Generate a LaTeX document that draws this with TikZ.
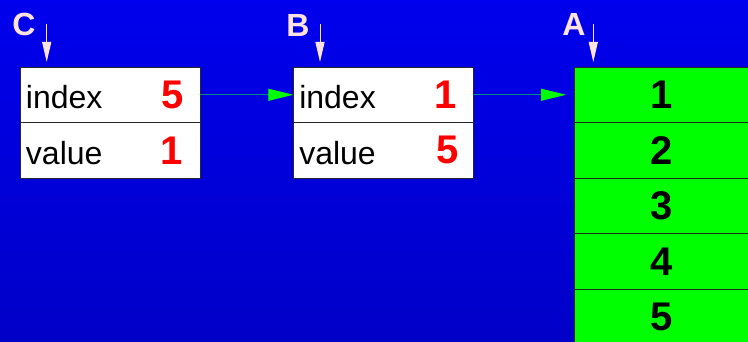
\documentclass[tikz,border=0pt]{standalone}
\usepackage{fontspec}
\setmainfont{Liberation Sans}
\usetikzlibrary{arrows.meta,positioning}
\usepackage{xcolor}
\definecolor{bgtop}{RGB}{0,0,236}
\definecolor{bgbot}{RGB}{0,0,200}
\definecolor{ptrpink}{RGB}{255,226,226}
\definecolor{linkteal}{RGB}{0,140,130}
\definecolor{slotgreen}{RGB}{0,255,0}
\tikzset{
  cell/.style={draw=black!85,fill=white,line width=0.8pt,minimum width=180pt,minimum height=55.5pt,
    inner xsep=6pt,inner ysep=0pt,outer sep=0pt,text width=168pt,align=left,
    text height=28pt,text depth=0pt,font=\fontsize{32}{32}\selectfont},
  num/.style={text=red,inner sep=0pt,font=\fontsize{40}{40}\selectfont\bfseries},
  slot/.style={draw=black!85,fill=slotgreen,line width=0.8pt,minimum width=176pt,minimum height=55.5pt,
    inner sep=0pt,outer sep=0pt,font=\fontsize{40}{40}\selectfont\bfseries},
  tag/.style={text=ptrpink,inner sep=0pt,font=\fontsize{32}{32}\selectfont\bfseries},
  ptr/.style={draw=ptrpink,line width=1pt,-{Triangle[length=20pt,width=9pt]}},
  link/.style={draw=linkteal,line width=1pt,-{Triangle[length=25pt,width=12pt,color=slotgreen]}}
}

\begin{document}
\begin{tikzpicture}[x=1pt,y=-1pt]
\shade[top color=bgtop,bottom color=bgbot] (0,0) rectangle (748,342);
\useasboundingbox (0,0) rectangle (748,342);
% record C
\node[cell,anchor=north west] (cidx) at (20,67) {index};
\node[cell,below=0pt of cidx] (cval) {value};
\node[num] (cidxn) at ([xshift=-27pt]cidx.east) {5};
\node[num] (cvaln) at ([xshift=-28pt]cval.east) {1};
% record B
\node[cell,anchor=north west] (bidx) at (293.3,67) {index};
\node[cell,below=0pt of bidx] (bval) {value};
\node[num] (bidxn) at ([xshift=-28pt]bidx.east) {1};
\node[num] (bvaln) at ([xshift=-26pt]bval.east) {5};
% array A
\node[slot,anchor=north west] (a1) at (574,67) {1};
\foreach \i [remember=\i as \prev (initially 1)] in {2,...,5}
  \node[slot,below=0pt of a\prev] (a\i) {\i};
% names and pointers
\node[tag] (lblC) at (24,24) {C};
\node[tag] (lblB) at (298,25) {B};
\node[tag] (lblA) at (574,24) {A};
\coordinate (ctop) at ([xshift=26.7pt,yshift=5pt]cidx.north west);
\coordinate (btop) at ([xshift=26.7pt,yshift=5pt]bidx.north west);
\coordinate (atop) at ([xshift=19.3pt,yshift=5pt]a1.north west);
\draw[ptr] (ctop |- lblC) -- (ctop);
\draw[ptr] (btop |- lblC) -- (btop);
\draw[ptr] (atop |- lblC) -- (atop);
\draw[link] (cidx) -- (bidx);
\draw[link,shorten >=8pt] (bidx) -- (a1);
\end{tikzpicture}
\end{document}
